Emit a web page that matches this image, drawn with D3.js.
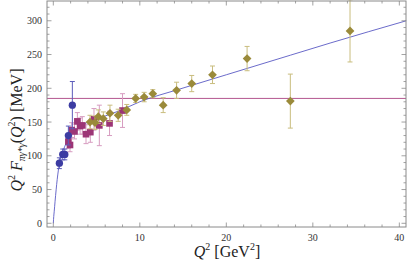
<!DOCTYPE html>
<html><head><meta charset="utf-8">
<script src="https://cdn.jsdelivr.net/npm/d3@7"></script>
<style>body{margin:0;background:#fff}svg{display:block}
text{font-family:"Liberation Serif","Times New Roman","DejaVu Serif",serif}</style>
</head><body><svg id="c" width="407" height="263"></svg>
<script>
// CELLO-like (blue circles)
const blueQ2 = [0.70, 1.09, 1.33, 1.74, 2.20];
const blueF = [89, 102, 102, 130, 175];
const blueErr = [8, 8, 8, 14, 35];
// CLEO-like (magenta squares)
const magQ2 = [1.74, 1.93, 2.13, 2.45, 2.78, 3.1, 3.35, 3.78, 4.28, 4.7, 5.32, 6.5, 8.0];
const magF = [121, 116, 138, 136, 151, 144, 145, 132, 135, 154, 145, 148, 167];
const magErr = [10, 10, 11, 11, 13, 12, 13, 14, 15, 16, 30, 18, 25];
// BaBar-like (olive diamonds)
const oliveQ2 = [4.24, 4.82, 5.2, 5.78, 6.55, 7.5, 8.49, 9.52, 10.5, 11.5, 12.7, 14.25, 16.0, 18.4, 22.4, 27.4, 34.3];
const oliveF = [150, 149, 158, 155, 163, 160, 168, 185, 187, 192, 175, 197, 207, 220, 244, 181, 285];
const oliveErr = [10, 10, 10, 10, 12, 9, 8, 6, 7, 6, 11, 12, 12, 13, 18, 40, 46];
// fit curve
const curveQ2 = [0, 0.05, 0.1, 0.2, 0.45, 0.7, 1.15, 1.75, 2.5, 4, 6, 7.7, 10, 14.65, 20, 27.4, 32, 40.8];
const curveF = [0, 10, 17, 32, 65, 88, 108, 125, 137, 150, 159, 167, 180, 199, 220, 249, 267, 300];
// horizontal reference level
const hLevel = 185;
const xTicks = [0, 10, 20, 30, 40];
const yTicks = [0, 50, 100, 150, 200, 250, 300];

const svg = d3.select('#c');
const L = 47, R = 406, T = 1, B = 227;
const x = d3.scaleLinear().domain([-0.73, 40.77]).range([L, R]);
const y = d3.scaleLinear().domain([-5.5, 329.3]).range([B, T]);
const frameCol = '#8a8a8a';

svg.append('line').attr('x1', L).attr('x2', R).attr('y1', y(hLevel)).attr('y2', y(hLevel))
  .attr('stroke', '#b4568f').attr('stroke-width', 1);

const cdat = curveQ2.map((q, i) => [q, curveF[i]]);
svg.append('path').datum(cdat)
  .attr('d', d3.line().x(d => x(d[0])).y(d => y(d[1])).curve(d3.curveMonotoneX))
  .attr('fill', 'none').attr('stroke', '#5a5ac4').attr('stroke-width', 0.9);

function series(qs, fs, es, barCol, markCol, sym, size, rot) {
  const g = svg.append('g');
  const data = qs.map((q, i) => ({q, f: fs[i], e: es[i]}));
  const eb = g.selectAll('g.eb').data(data).enter().append('g').attr('stroke', barCol).attr('stroke-width', 1);
  eb.append('line').attr('x1', d => x(d.q)).attr('x2', d => x(d.q)).attr('y1', d => y(d.f - d.e)).attr('y2', d => y(d.f + d.e));
  eb.append('line').attr('x1', d => x(d.q) - 2.5).attr('x2', d => x(d.q) + 2.5).attr('y1', d => y(d.f - d.e)).attr('y2', d => y(d.f - d.e));
  eb.append('line').attr('x1', d => x(d.q) - 2.5).attr('x2', d => x(d.q) + 2.5).attr('y1', d => y(d.f + d.e)).attr('y2', d => y(d.f + d.e));
  g.selectAll('path.m').data(data).enter().append('path')
    .attr('d', d3.symbol().type(sym).size(size))
    .attr('transform', d => `translate(${x(d.q)},${y(d.f)}) rotate(${rot})`)
    .attr('fill', markCol);
}
series(magQ2, magF, magErr, '#d79cc0', '#9c3576', d3.symbolSquare, 44, 0);
series(blueQ2, blueF, blueErr, '#5c5cba', '#3c3ca2', d3.symbolCircle, 42, 0);
series(oliveQ2, oliveF, oliveErr, '#c9bd7e', '#9a8a3a', d3.symbolSquare, 38, 45);

svg.append('rect').attr('x', L).attr('y', T).attr('width', R - L).attr('height', B - T)
  .attr('fill', 'none').attr('stroke', frameCol).attr('stroke-width', 1);

const tg = svg.append('g').attr('stroke', frameCol).attr('stroke-width', 0.8);
for (let v = 0; v <= 40; v += 2) {
  const len = v % 10 === 0 ? 4.5 : 2.5;
  tg.append('line').attr('x1', x(v)).attr('x2', x(v)).attr('y1', B).attr('y2', B - len);
  tg.append('line').attr('x1', x(v)).attr('x2', x(v)).attr('y1', T).attr('y2', T + len);
}
for (let v = 0; v <= 320; v += 10) {
  const len = v % 50 === 0 ? 4.5 : 2.5;
  tg.append('line').attr('y1', y(v)).attr('y2', y(v)).attr('x1', L).attr('x2', L + len);
  tg.append('line').attr('y1', y(v)).attr('y2', y(v)).attr('x1', R).attr('x2', R - len);
}

svg.append('g').selectAll('text').data(xTicks).enter().append('text')
  .attr('x', d => x(d)).attr('y', 241).attr('text-anchor', 'middle')
  .attr('font-size', 10).attr('fill', '#333').text(d => d);
svg.append('g').selectAll('text').data(yTicks).enter().append('text')
  .attr('x', 42).attr('y', d => y(d) + 3.5).attr('text-anchor', 'end')
  .attr('font-size', 10).attr('fill', '#333').text(d => d);

const xl = svg.append('text').attr('x', 227).attr('y', 257).attr('text-anchor', 'middle')
  .attr('font-size', 16).attr('fill', '#222');
xl.append('tspan').attr('font-style', 'italic').text('Q');
xl.append('tspan').attr('font-size', 10).attr('dy', -7).text('2');
xl.append('tspan').attr('dy', 7).text(' [GeV');
xl.append('tspan').attr('font-size', 10).attr('dy', -7).text('2');
xl.append('tspan').attr('dy', 7).text(']');

const yl = svg.append('text').attr('transform', 'translate(22,130) rotate(-90)').attr('text-anchor', 'middle')
  .attr('font-size', 16).attr('fill', '#222');
yl.append('tspan').attr('font-style', 'italic').text('Q');
yl.append('tspan').attr('font-size', 10).attr('dy', -7).text('2');
yl.append('tspan').attr('dy', 7).attr('font-style', 'italic').text(' F');
yl.append('tspan').attr('font-size', 10).attr('font-style', 'italic').attr('dy', 3).text('πγ*γ');
yl.append('tspan').attr('dy', -3).text('(');
yl.append('tspan').attr('font-style', 'italic').text('Q');
yl.append('tspan').attr('font-size', 10).attr('dy', -7).text('2');
yl.append('tspan').attr('dy', 7).text(') [MeV]');
</script></body></html>
